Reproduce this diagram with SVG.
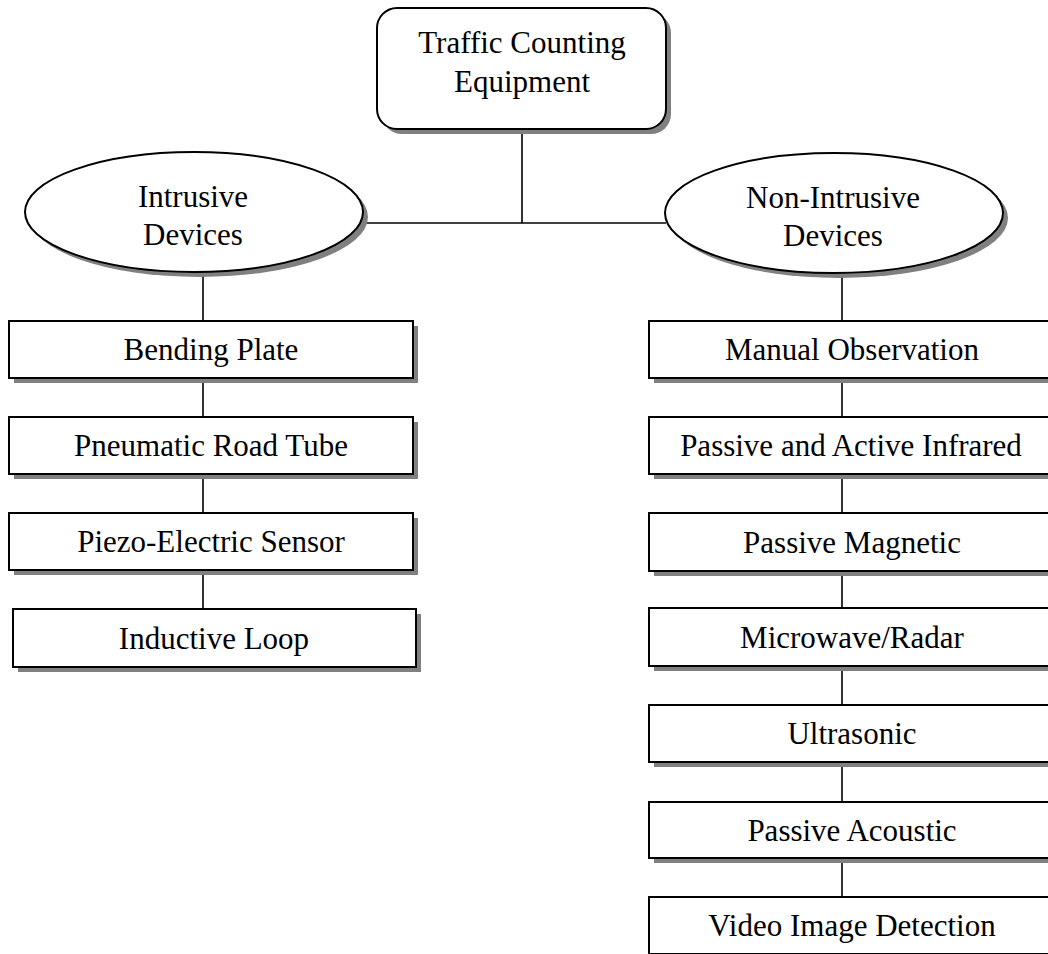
<svg xmlns="http://www.w3.org/2000/svg" width="1048" height="954" viewBox="0 0 1048 954">
<style>
.shadow{fill:#808080;stroke:none}
.box{fill:#fff;stroke:#000;stroke-width:2}
.lbl{font-family:"Liberation Serif","Times New Roman",serif;font-size:31px;fill:#000;text-anchor:middle}
.conn{stroke:#000;stroke-width:1.6;fill:none}
</style>
<rect width="1048" height="954" fill="#fff"/>
<g id="connectors">
<line class="conn" x1="522" y1="129" x2="522" y2="223"/>
<line class="conn" x1="363" y1="223" x2="666" y2="223"/>
<line class="conn" x1="203" y1="272" x2="203" y2="321"/>
<line class="conn" x1="203" y1="378" x2="203" y2="417"/>
<line class="conn" x1="203" y1="474" x2="203" y2="513"/>
<line class="conn" x1="203" y1="570" x2="203" y2="609"/>
<line class="conn" x1="842" y1="273" x2="842" y2="321"/>
<line class="conn" x1="842" y1="378" x2="842" y2="417"/>
<line class="conn" x1="842" y1="474" x2="842" y2="513"/>
<line class="conn" x1="842" y1="570" x2="842" y2="609"/>
<line class="conn" x1="842" y1="666" x2="842" y2="705"/>
<line class="conn" x1="842" y1="762" x2="842" y2="802"/>
<line class="conn" x1="842" y1="858" x2="842" y2="897"/>
</g>
<g id="root">
<rect class="shadow" x="382" y="13" width="289" height="121" rx="20"/>
<rect class="box" x="377" y="8" width="289" height="121" rx="20"/>
<text class="lbl" x="522" y="53">Traffic Counting</text>
<text class="lbl" x="522" y="92">Equipment</text>
</g>
<g id="intrusive">
<ellipse class="shadow" cx="199" cy="217" rx="169" ry="60"/>
<ellipse class="box" cx="194" cy="212" rx="169" ry="60"/>
<text class="lbl" x="193" y="207">Intrusive</text>
<text class="lbl" x="193" y="245">Devices</text>
</g>
<g id="nonintrusive">
<ellipse class="shadow" cx="839" cy="218" rx="169" ry="60"/>
<ellipse class="box" cx="834" cy="213" rx="169" ry="60"/>
<text class="lbl" x="833" y="208">Non-Intrusive</text>
<text class="lbl" x="833" y="246">Devices</text>
</g>
<g id="bending">
<rect class="shadow" x="14" y="326" width="404" height="57"/>
<rect class="box" x="9" y="321" width="404" height="57"/>
<text class="lbl" x="211" y="360">Bending Plate</text>
</g>
<g id="pneumatic">
<rect class="shadow" x="14" y="422" width="404" height="57"/>
<rect class="box" x="9" y="417" width="404" height="57"/>
<text class="lbl" x="211" y="456">Pneumatic Road Tube</text>
</g>
<g id="piezo">
<rect class="shadow" x="14" y="518" width="404" height="57"/>
<rect class="box" x="9" y="513" width="404" height="57"/>
<text class="lbl" x="211" y="552">Piezo-Electric Sensor</text>
</g>
<g id="inductive">
<rect class="shadow" x="18" y="614" width="403" height="58"/>
<rect class="box" x="13" y="609" width="403" height="58"/>
<text class="lbl" x="214" y="649">Inductive Loop</text>
</g>
<g id="manual">
<rect class="shadow" x="654" y="326" width="406" height="57"/>
<rect class="box" x="649" y="321" width="406" height="57"/>
<text class="lbl" x="852" y="360">Manual Observation</text>
</g>
<g id="infrared">
<rect class="shadow" x="654" y="422" width="406" height="57"/>
<rect class="box" x="649" y="417" width="406" height="57"/>
<text class="lbl" x="851" y="456">Passive and Active Infrared</text>
</g>
<g id="magnetic">
<rect class="shadow" x="654" y="518" width="406" height="58"/>
<rect class="box" x="649" y="513" width="406" height="58"/>
<text class="lbl" x="852" y="553">Passive Magnetic</text>
</g>
<g id="microwave">
<rect class="shadow" x="654" y="613" width="406" height="58"/>
<rect class="box" x="649" y="608" width="406" height="58"/>
<text class="lbl" x="852" y="648">Microwave/Radar</text>
</g>
<g id="ultrasonic">
<rect class="shadow" x="654" y="710" width="406" height="57"/>
<rect class="box" x="649" y="705" width="406" height="57"/>
<text class="lbl" x="852" y="744">Ultrasonic</text>
</g>
<g id="acoustic">
<rect class="shadow" x="654" y="807" width="406" height="56"/>
<rect class="box" x="649" y="802" width="406" height="56"/>
<text class="lbl" x="852" y="841">Passive Acoustic</text>
</g>
<g id="video">
<rect class="shadow" x="654" y="902" width="406" height="57"/>
<rect class="box" x="649" y="897" width="406" height="57"/>
<text class="lbl" x="852" y="936">Video Image Detection</text>
</g>
</svg>
